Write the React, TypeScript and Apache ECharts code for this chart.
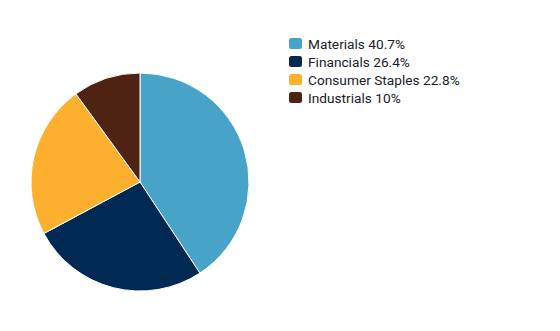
import React, { useEffect, useRef } from "react";
import * as echarts from "echarts";

const categories = ["Materials", "Financials", "Consumer Staples", "Industrials"];
const values = [40.7, 26.4, 22.8, 10];
const colors = ["#47A3C8", "#002A54", "#FDAF2E", "#4E2314"];

export default function App() {
  const ref = useRef<HTMLDivElement>(null);
  useEffect(() => {
    document.body.style.margin = "0";
    const chart = echarts.init(ref.current!, null, { renderer: "svg" });
    const data = categories.map((name, i) => ({ name, value: values[i], itemStyle: { color: colors[i] } }));
    chart.setOption({
      animation: false,
      legend: {
        orient: "vertical",
        left: 282,
        top: 31,
        itemWidth: 15,
        itemHeight: 13,
        itemGap: 3,
        icon: "roundRect",
        formatter: (name: string) => {
          const i = categories.indexOf(name);
          return `${name} ${values[i]}%`;
        },
        textStyle: { fontFamily: "Roboto", fontSize: 13.7, lineHeight: 15, color: "#1a1a2a" },
        data: categories,
      },
      series: [
        {
          type: "pie",
          center: [140, 182],
          radius: 109,
          startAngle: 90,
          clockwise: true,
          label: { show: false },
          labelLine: { show: false },
          itemStyle: { borderColor: "#fff", borderWidth: 1 },
          emphasis: { disabled: true },
          data,
        },
      ],
    });
    return () => chart.dispose();
  }, []);
  return <div ref={ref} style={{ position: "absolute", left: 0, top: 0, width: 560, height: 331 }} />;
}
